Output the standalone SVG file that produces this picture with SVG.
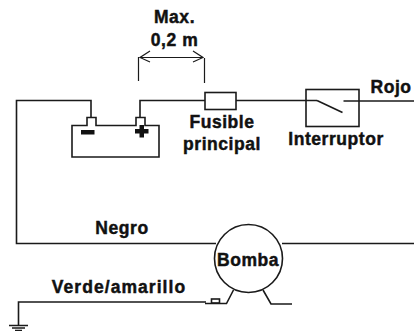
<svg xmlns="http://www.w3.org/2000/svg" width="414" height="331" viewBox="0 0 414 331">
<style>
.l{fill:none;stroke:#1a1a1a;stroke-width:1.6}
.d{fill:none;stroke:#1a1a1a;stroke-width:1.2}
.t{font-family:"Liberation Sans",Arial,sans-serif;font-weight:bold;font-size:17.5px;letter-spacing:.55px;fill:#111;stroke:#111;stroke-width:.45;text-anchor:middle}
</style>
<rect width="414" height="331" fill="#fff"/>
<g id="connectors">
<path class="l" d="M91 117V100.500H16.500V243.500H216"/>
<path class="l" d="M140 117V100.500H205"/>
<path class="l" d="M236 100.500H317"/>
<path class="l" d="M282 243.500H414"/>
<path class="l" d="M343.500 101H414"/>
<path class="l" d="M206 302H18.500V325"/>
</g>
<g id="dimension">
<path class="d" d="M138.500 57V81M204.500 58V83M140 57.500H203M150 51L140 57.500L150 62M193 51L203 57.500L193 62"/>
<text class="t" x="174.500" y="23">Max.</text>
<text class="t" x="174.500" y="46">0,2 m</text>
</g>
<g id="battery">
<path class="l" d="M72 125.500H87V117.500H96V125.500H136V117.500H145V125.500H159V157H72Z"/>
<path d="M81 130H94.500V134.500H81ZM139.500 125H144V129H148.500V133.500H144V137.500H139.500V133.500H135V129H139.500Z" fill="#111"/>
</g>
<g id="fuse">
<rect class="l" x="205" y="92.500" width="31" height="17" fill="#fff"/>
<text class="t" x="222" y="128">Fusible</text>
<text class="t" x="222" y="149.500">principal</text>
</g>
<g id="switch">
<rect class="l" x="306" y="89.500" width="53" height="37"/>
<path class="l" d="M317 100.500L342.500 112.500"/>
<text class="t" x="336" y="145">Interruptor</text>
</g>
<g id="rojo"><text class="t" x="391" y="93">Rojo</text></g>
<g id="negro"><text class="t" x="122" y="233.500">Negro</text></g>
<g id="verde"><text class="t" x="119" y="292.500" style="letter-spacing:1.05px">Verde/amarillo</text></g>
<g id="pump">
<circle class="l" cx="248.500" cy="258.500" r="34" fill="#fff"/>
<path class="l" d="M233.500 290L226.500 303.500H205M263 290L271 304H292"/>
<rect class="l" x="211.500" y="299" width="8" height="4" fill="#fff"/>
<text class="t" x="248" y="266">Bomba</text>
</g>
<g id="ground">
<path class="l" d="M9 325.500H28M12 328H25M15 330.500H22"/>
</g>
</svg>
